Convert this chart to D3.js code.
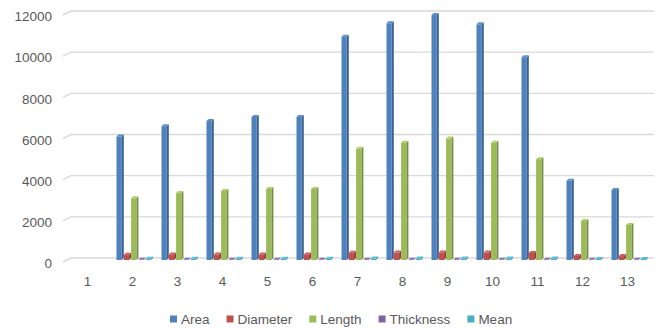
<!DOCTYPE html>
<html>
<head>
<meta charset="utf-8">
<script src="https://cdn.jsdelivr.net/npm/d3@7"></script>
<style>
  html, body { margin: 0; padding: 0; background: #fff; }
  svg { display: block; }
  text { font-family: "Liberation Sans", Arial, sans-serif; fill: #595959; }
</style>
</head>
<body>
<svg id="chart" width="667" height="328"></svg>
<script>
// Sample categories (1..13) and measured series values
const categories = ["1","2","3","4","5","6","7","8","9","10","11","12","13"];
const seriesNames = ["Area","Diameter","Length","Thickness","Mean"];
const area      = [0, 6000, 6500, 6750, 6950, 6950, 10850, 11500, 11900, 11450, 9850, 3850, 3400];
const diameter  = [0, 260, 270, 270, 270, 270, 350, 360, 370, 360, 340, 200, 190];
const length    = [0, 3000, 3250, 3350, 3450, 3450, 5400, 5700, 5900, 5700, 4900, 1900, 1700];
const thickness = [0, 10, 10, 10, 10, 10, 12, 12, 12, 12, 12, 8, 8];
const meanVals  = [0, 60, 60, 60, 60, 60, 70, 70, 70, 70, 70, 50, 50];
const yTicks    = [0, 2000, 4000, 6000, 8000, 10000, 12000];

const seriesValues = [area, diameter, length, thickness, meanVals];
const colors = ["#4f81bd", "#c0504d", "#9bbb59", "#8064a2", "#4bacc6"];

const svg = d3.select("#chart");

const x = d3.scaleBand().domain(categories).range([65, 650]).paddingInner(0).paddingOuter(0);
const xs = d3.scaleBand().domain(seriesNames).range([6.5, 43]);
const y = d3.scaleLinear().domain([0, 12000]).range([258, 11]);

// depth offsets of the 3D wall / bars
const wallDx = 8, wallDy = 4;
const bd = 2;

// gridlines on the back wall with slanted side wall segment
const grid = svg.append("g");
yTicks.forEach(t => {
  const yy = y(t);
  grid.append("path")
    .attr("d", `M${63},${yy + wallDy} L${63 + wallDx},${yy} L${654},${yy}`)
    .attr("fill", "none")
    .attr("stroke", "#d9d9d9")
    .attr("stroke-width", 1.4);
});

// y axis labels
const yAxis = d3.axisLeft(y).tickValues(yTicks).tickSize(0).tickPadding(0).tickFormat(d3.format("d"));
const gy = svg.append("g").attr("transform", "translate(52,5.5)").call(yAxis);
gy.select(".domain").remove();
gy.selectAll("text").attr("font-size", "13.5px").attr("fill", "#595959")
  .style("font-family", "'Liberation Sans', Arial, sans-serif");

// x axis labels
const xAxis = d3.axisBottom(x).tickSize(0).tickPadding(0);
const gx = svg.append("g").attr("transform", "translate(0,276)").call(xAxis);
gx.select(".domain").remove();
gx.selectAll("text").attr("font-size", "13.5px").attr("fill", "#595959")
  .style("font-family", "'Liberation Sans', Arial, sans-serif");

// 3D columns
const shade = (c, k) => d3.color(c).darker(k).formatHex();
const bright = (c, k) => d3.color(c).brighter(k).formatHex();
const bars = svg.append("g");
seriesNames.forEach((name, si) => {
  const col = colors[si];
  const g = bars.append("g").attr("class", "series-" + name);
  categories.forEach((cat, ci) => {
    const v = seriesValues[si][ci];
    if (v <= 0) return;
    const x0 = x(cat) + xs(name);
    const w = xs.bandwidth() - bd;
    const yb = y(0) + bd;
    const yt = y(v) + bd;
    // side face
    g.append("path")
      .attr("d", `M${x0 + w},${yt} L${x0 + w + bd},${yt - bd} L${x0 + w + bd},${yb - bd} L${x0 + w},${yb} Z`)
      .attr("fill", shade(col, 0.8));
    // front face
    g.append("rect")
      .attr("x", x0).attr("y", yt)
      .attr("width", w).attr("height", Math.max(0, yb - yt))
      .attr("fill", col);
    // top face
    g.append("path")
      .attr("d", `M${x0},${yt} L${x0 + bd},${yt - bd} L${x0 + w + bd},${yt - bd} L${x0 + w},${yt} Z`)
      .attr("fill", bright(col, 0.3));
  });
});

// legend, laid out left to right with even gaps
const legend = svg.append("g").attr("transform", "translate(0,319)");
let lx = 170;
seriesNames.forEach((name, i) => {
  legend.append("rect").attr("x", lx).attr("y", -3.5).attr("width", 7).attr("height", 7).attr("fill", colors[i]);
  const t = legend.append("text").attr("x", lx + 11).attr("y", 0)
    .attr("dominant-baseline", "central")
    .attr("font-size", "13.5px").text(name);
  lx += 11 + t.node().getComputedTextLength() + 17;
});
</script>
</body>
</html>
